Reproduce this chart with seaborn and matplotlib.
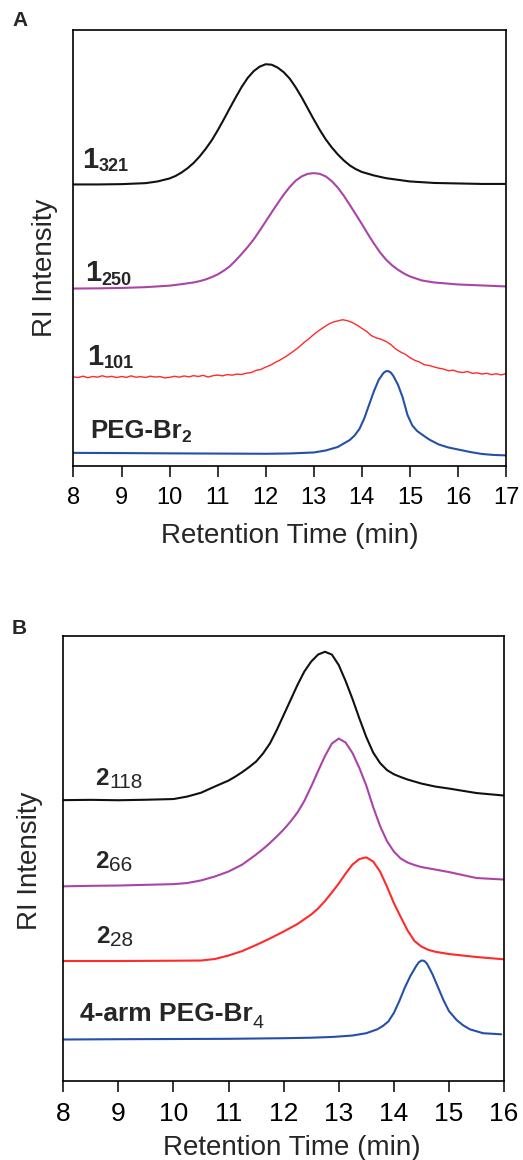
import numpy as np
import matplotlib
matplotlib.use('Agg')
import matplotlib.pyplot as plt
import seaborn as sns

# ---- panel A: GPC traces (RI intensity, arbitrary units, offset stacked) ----
t_321 = [8.0, 8.5, 9.0, 9.5, 9.75, 10.0, 10.125, 10.25, 10.375, 10.5, 10.625, 10.75, 10.875,
         11.0, 11.125, 11.25, 11.375, 11.5, 11.625, 11.75, 11.875, 12.0, 12.125, 12.25, 12.375,
         12.5, 12.625, 12.75, 12.875, 13.0, 13.125, 13.25, 13.375, 13.5, 13.625, 13.75, 13.875,
         14.0, 14.25, 14.5, 15.0, 15.5, 16.0, 16.5, 17.0]
ri_321 = [281.5, 281.5, 281.8, 282.8, 284.5, 287.5, 290, 293.5, 297.8, 303, 309.5, 317, 325.5,
          335.5, 346.3, 357.5, 368.5, 379, 388, 394.8, 399.3, 401.7, 401.2, 398.3, 393.7,
          387.3, 378.5, 368.5, 357.5, 346.5, 336, 326.5, 318.5, 311.5, 305.5, 300.5, 296.8,
          294, 290.5, 287.8, 284.5, 283, 282.5, 282, 282]

t_250 = [8.0, 8.5, 9.0, 9.5, 10.0, 10.25, 10.5, 10.625, 10.75, 10.875, 11.0, 11.125, 11.25,
         11.375, 11.5, 11.625, 11.75, 11.875, 12.0, 12.125, 12.25, 12.375, 12.5, 12.625, 12.75,
         12.875, 13.0, 13.125, 13.25, 13.375, 13.5, 13.625, 13.75, 13.875, 14.0, 14.125, 14.25,
         14.375, 14.5, 14.625, 14.75, 14.875, 15.0, 15.25, 15.5, 16.0, 16.5, 17.0]
ri_250 = [177.4, 177.6, 178, 178.8, 180.3, 181.8, 183.5, 184.8, 186.5, 188.8, 191.5, 195.2, 199.5,
          205.5, 212, 219, 226.5, 235.3, 244.5, 253.7, 262.7, 271.3, 279, 285.3, 289.6,
          292.1, 292.8, 292.1, 289.5, 284.8, 278.3, 270.2, 261, 251.5, 242, 232, 222.5,
          213.8, 206.5, 200.8, 196.3, 192.5, 189.5, 185.5, 183.5, 181.5, 180.5, 179.5]

t_101 = [8.0, 8.1, 8.2, 8.3, 8.4, 8.5, 8.6, 8.7, 8.8, 8.9, 9.0, 9.1, 9.2, 9.3, 9.4, 9.5, 9.6, 9.7,
         9.8, 9.9, 10.0, 10.1, 10.2, 10.3, 10.4, 10.5, 10.6, 10.7, 10.8, 10.9, 11.0, 11.1, 11.2,
         11.3, 11.4, 11.5, 11.6, 11.7, 11.8, 11.9, 12.0, 12.1, 12.2, 12.3, 12.4, 12.5, 12.6, 12.7,
         12.8, 12.9, 13.0, 13.1, 13.2, 13.3, 13.4, 13.5, 13.6, 13.7, 13.8, 13.9, 14.0, 14.1, 14.2,
         14.3, 14.4, 14.5, 14.6, 14.7, 14.8, 14.9, 15.0, 15.1, 15.2, 15.3, 15.4, 15.5, 15.6, 15.7,
         15.8, 15.9, 16.0, 16.1, 16.2, 16.3, 16.4, 16.5, 16.6, 16.7, 16.8, 16.9, 17.0]
ri_101 = [89, 88.5, 89.8, 88.2, 89.5, 88.8, 90.2, 88.9, 89.6, 88.4, 89.5, 88.6, 90.1, 88.7, 89.3,
          88.5, 89.8, 88.9, 89.4, 88.1, 88.6, 89.7, 88.8, 90.0, 89.1, 90.3, 89.5, 90.6, 88.9, 90.2,
          90.9, 90.1, 91.4, 90.8, 91.9, 91.5, 92.8, 93.4, 95.6, 96.5, 98.9, 100.8, 103.6, 106,
          108.9, 112.1, 115.5, 119.3, 123.6, 127.2, 131.5, 135.2, 138.4, 141.6, 143.8, 145.1,
          146.2, 145.3, 143.5, 140.8, 137.6, 134.5, 130.3, 128.1, 126.7, 124.6, 121.5, 117.2,
          114.1, 111.8, 108.3, 105.7, 103.9, 101.2, 100.5, 99.1, 97.8, 96.9, 95.2, 95.8, 94.1,
          93.5, 94.4, 92.6, 93.1, 91.9, 92.7, 91.3, 92.2, 91.0, 92.4]

t_peg2 = [8.0, 9.0, 10.0, 11.0, 12.0, 12.5, 13.0, 13.25, 13.5, 13.75, 13.85, 13.95, 14.05, 14.15,
          14.25, 14.35, 14.45, 14.5, 14.55, 14.6, 14.65, 14.75, 14.85, 14.95, 15.05, 15.15,
          15.25, 15.4, 15.6, 15.8, 16.0, 16.25, 16.5, 16.75, 17.0]
ri_peg2 = [13.1, 12.9, 12.6, 12.4, 12.2, 12.5, 13.5, 15.5, 19, 26, 30.5, 37, 47.5, 61,
           74.5, 86, 93, 94.7, 94.9, 93.5, 90.5, 81.5, 68.5, 51, 40.5, 35, 31.5, 26.5, 21.5,
           18.5, 16.5, 14, 12, 11, 10.6]

# ---- panel B ----
t_118 = [8.0, 8.5, 9.0, 9.5, 10.0, 10.25, 10.5, 10.75, 11.0, 11.125, 11.25, 11.375, 11.5, 11.625,
         11.75, 11.875, 12.0, 12.125, 12.25, 12.375, 12.5, 12.625, 12.75, 12.875, 13.0, 13.125,
         13.25, 13.375, 13.5, 13.625, 13.75, 13.875, 14.0, 14.125, 14.25, 14.5, 14.75, 15.0,
         15.5, 16.0]
ri_118 = [280.9, 281.2, 280.8, 281.3, 282, 284.5, 288.3, 294.5, 300.5, 304.5, 309, 314, 319.5,
          327.5, 337.5, 351, 366, 381, 396, 409.5, 419.5, 426.5, 429.3, 426.5, 416, 400,
          382, 362.5, 344, 328.5, 318, 311, 306.8, 304, 301.5, 297.5, 294.5, 292.5,
          288, 285.5]

t_66 = [8.0, 8.5, 9.0, 9.5, 10.0, 10.25, 10.5, 10.75, 11.0, 11.25, 11.5, 11.625, 11.75, 11.875,
        12.0, 12.125, 12.25, 12.375, 12.5, 12.625, 12.75, 12.875, 13.0, 13.125, 13.25, 13.375,
        13.5, 13.625, 13.75, 13.875, 14.0, 14.125, 14.25, 14.375, 14.5, 15.0, 15.5, 16.0]
ri_66 = [194.7, 195.2, 195.5, 196.2, 196.9, 198, 200.6, 204.5, 209.5, 216.5, 226.5, 232, 238,
         244.5, 251.5, 259.5, 268.5, 280, 294.5, 310, 325, 337.5, 342.5, 338.5, 328, 313,
         295.5, 274, 255, 240, 229.5, 222.5, 218.5, 216, 214, 209, 203, 201.5]

t_28 = [8.0, 9.0, 10.0, 10.5, 10.75, 11.0, 11.25, 11.5, 11.75, 12.0, 12.25, 12.5, 12.625, 12.75,
        12.875, 13.0, 13.125, 13.25, 13.375, 13.5, 13.625, 13.75, 13.875, 14.0, 14.125, 14.25,
        14.375, 14.5, 14.625, 14.75, 15.0, 15.5, 16.0]
ri_28 = [120, 120, 120.3, 120.5, 122, 125.5, 130, 136, 142.5, 149.5, 157, 166.5, 172.5, 180,
         188.5, 197.5, 207.5, 216.5, 222, 223.7, 219.5, 209.5, 194.5, 178, 164, 150.5,
         140, 134.5, 131.2, 129.3, 127, 124, 121.7]

t_peg4 = [8.0, 9.0, 10.0, 11.0, 12.0, 12.5, 12.9, 13.25, 13.5, 13.7, 13.8, 13.9, 14.0, 14.1,
          14.2, 14.3, 14.4, 14.45, 14.5, 14.55, 14.6, 14.7, 14.8, 14.9, 15.0, 15.14, 15.25,
          15.38, 15.62, 15.95]
ri_peg4 = [41.5, 41.8, 42, 42.2, 42.8, 43.3, 44.1, 45.5, 47.8, 51.7, 55, 59.5, 68, 80,
           93.5, 105, 114.5, 118.5, 120.5, 120.2, 117.5, 107, 94, 81, 70, 61, 56,
           51.7, 47.8, 46.7]

ticks_a = [8, 9, 10, 11, 12, 13, 14, 15, 16, 17]
ticks_b = [8, 9, 10, 11, 12, 13, 14, 15, 16]

BLACK = '#111111'
MAGENTA = '#a945a8'
RED = '#ff2a2a'
BLUE = '#2550a8'


def add_label(ax, x, y, main, sub, size, subsize, subweight, dy):
    t = ax.text(x, y, main, fontsize=size, fontweight='bold', va='baseline')
    ax.annotate(sub, xy=(1, 0), xycoords=t, xytext=(0.3, -dy), textcoords='offset points',
                fontsize=subsize, fontweight=subweight, va='bottom', ha='left')


def style_axes(ax, ticks, ylim, tick_size):
    ax.set_xlim(ticks[0], ticks[-1])
    ax.set_ylim(*ylim)
    ax.set_xticks(ticks)
    ax.set_yticks([])
    ax.tick_params(axis='x', direction='out', length=8, width=1.1, pad=7,
                   labelsize=tick_size, colors='black')
    for s in ax.spines.values():
        s.set_visible(True)
        s.set_color('black')
        s.set_linewidth(1.2)
    ax.set_xlabel('Retention Time (min)', fontsize=20)
    ax.set_ylabel('RI Intensity', fontsize=20)


def main():
    sns.set_theme(style='ticks')
    plt.rcParams['font.family'] = ['Liberation Sans', 'DejaVu Sans']

    fig = plt.figure(figsize=(5.23, 11.6), dpi=100)
    ax_a = fig.add_axes([0.1405, 0.5983, 0.827, 0.3759])
    ax_b = fig.add_axes([0.121, 0.0681, 0.8427, 0.384])

    for t, r, c in [(t_321, ri_321, BLACK), (t_250, ri_250, MAGENTA),
                    (t_101, ri_101, RED), (t_peg2, ri_peg2, BLUE)]:
        sns.lineplot(x=t, y=r, ax=ax_a, color=c, linewidth=1.5 if c != RED else 1.0,
                     estimator=None, sort=False)
    for t, r, c in [(t_118, ri_118, BLACK), (t_66, ri_66, MAGENTA),
                    (t_28, ri_28, RED), (t_peg4, ri_peg4, BLUE)]:
        sns.lineplot(x=t, y=r, ax=ax_b, color=c, linewidth=1.5, estimator=None, sort=False)

    style_axes(ax_a, ticks_a, (0, 436), 17)
    style_axes(ax_b, ticks_b, (0, 445.5), 19)
    ax_a.yaxis.set_label_coords(-0.036, 0.454)
    ax_a.xaxis.set_label_coords(0.5, -0.131)
    ax_b.yaxis.set_label_coords(-0.045, 0.494)
    ax_b.xaxis.set_label_coords(0.518, -0.121)

    add_label(ax_a, 8.18, 298, '1', '321', 21, 13, 'bold', 1.0)
    add_label(ax_a, 8.24, 184.5, '1', '250', 21, 13, 'bold', 1.0)
    add_label(ax_a, 8.29, 101, '1', '101', 21, 13, 'bold', 1.0)
    add_label(ax_a, 8.34, 27.5, 'PEG-Br', '2', 18.5, 12.5, 'bold', 1.0)

    add_label(ax_b, 8.58, 296, '2', '118', 17.5, 15, 'normal', 1.5)
    add_label(ax_b, 8.58, 212.7, '2', '66', 17.5, 15, 'normal', 1.5)
    add_label(ax_b, 8.6, 137.7, '2', '28', 17.5, 15, 'normal', 1.5)
    add_label(ax_b, 8.3, 60, '4-arm PEG-Br', '4', 19, 14, 'normal', 4)

    fig.text(0.024, 1 - 21 / 1160, 'A', fontsize=15, fontweight='bold', va='center')
    fig.text(0.022, 1 - 628 / 1160, 'B', fontsize=15, fontweight='bold', va='center')

    fig.savefig('out.png', dpi=100, facecolor='white')


if __name__ == '__main__':
    main()
